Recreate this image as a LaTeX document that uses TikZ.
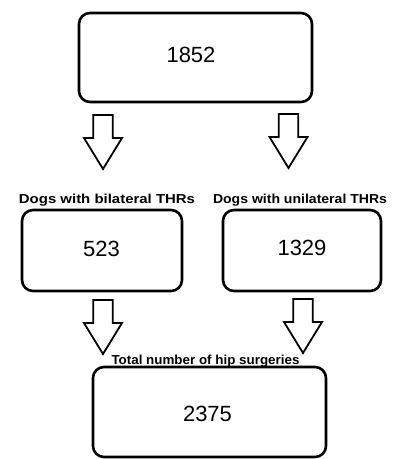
\documentclass[tikz,border=0pt]{standalone}
\usepackage{fontspec}
\setmainfont{Liberation Sans}
\begin{document}
\begin{tikzpicture}[x=1pt,y=-1pt,
  box/.style={draw,line width=2.6pt,rounded corners=11pt,inner sep=0pt},
  num/.style={font=\fontsize{22}{22}\selectfont},
  lbl/.style={font=\fontsize{13}{13}\bfseries\selectfont,inner sep=0pt,anchor=base},
  blockarrow/.pic={\draw[line width=1.8pt,line join=miter,fill=white]
     (-9.75,0) -- (9.75,0) -- (9.75,23) -- (19,23) -- (0,54) -- (-19,23) -- (-9.75,23) -- cycle;}]
\useasboundingbox (0,0) rectangle (392,459);
% boxes
\draw[box] (79,13) rectangle (312,102);
\node[num] (top) at (191,55) {1852};
\draw[box] (22,210) rectangle (182,291);
\node[num] (bil) at (101.5,249) {523};
\draw[box] (223,210) rectangle (381,291);
\node[num] (uni) at (302,248) {1329};
\draw[box] (93,367) rectangle (326,457);
\node[num] (tot) at (207.5,414) {2375};
% labels
\node[lbl] (lbil) at (107,203) {\scalebox{1.15}[1]{Dogs with bilateral THRs}};
\node[lbl] (luni) at (300,203) {\scalebox{1.08}[1]{Dogs with unilateral THRs}};
\node[lbl] (ltot) at (205.5,364) {\scalebox{1.03}[1]{Total number of hip surgeries}};
% arrows
\pic at (103,115) {blockarrow};
\pic at (288.5,114) {blockarrow};
\pic at (103,300) {blockarrow};
\pic at (303,299) {blockarrow};
\end{tikzpicture}
\end{document}
